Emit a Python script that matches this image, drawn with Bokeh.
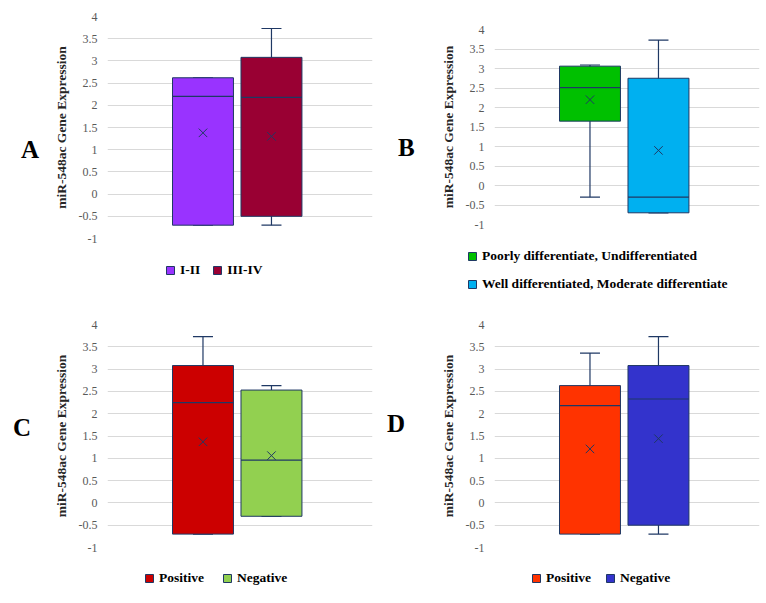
from bokeh.plotting import figure
from bokeh.models import (ColumnDataSource, Range1d, FixedTicker, NumeralTickFormatter,
                          Legend, LegendItem, Whisker, TeeHead, Div)
from bokeh.layouts import column, row
from bokeh.embed import file_html
from bokeh.resources import INLINE

# ---------------- data ----------------
y_ticks = [-1, -0.5, 0, 0.5, 1, 1.5, 2, 2.5, 3, 3.5, 4]
y_title = "miR-548ac Gene Expression"

a_cats = ["I-II", "III-IV"]
a_q1 = [-0.7, -0.5]
a_q3 = [2.62, 3.08]
a_median = [2.2, 2.18]
a_mean = [1.38, 1.3]
a_min = [-0.7, -0.7]
a_max = [2.62, 3.73]
a_colors = ["#9933FF", "#990033"]

b_cats = ["Poorly differentiate, Undifferentiated", "Well differentiated, Moderate differentiate"]
b_q1 = [1.65, -0.7]
b_q3 = [3.06, 2.75]
b_median = [2.51, -0.3]
b_mean = [2.2, 0.9]
b_min = [-0.3, -0.7]
b_max = [3.09, 3.73]
b_colors = ["#00C000", "#00B0F0"]

c_cats = ["Positive", "Negative"]
c_q1 = [-0.7, -0.3]
c_q3 = [3.08, 2.53]
c_median = [2.25, 0.96]
c_mean = [1.37, 1.06]
c_min = [-0.7, -0.3]
c_max = [3.73, 2.63]
c_colors = ["#CC0000", "#92D050"]

d_cats = ["Positive", "Negative"]
d_q1 = [-0.7, -0.5]
d_q3 = [2.63, 3.08]
d_median = [2.18, 2.33]
d_mean = [1.21, 1.44]
d_min = [-0.7, -0.7]
d_max = [3.36, 3.73]
d_colors = ["#FF3300", "#3333CC"]

NAVY = "#1F3864"
SERIF = "Liberation Serif"
PANEL_W = 383
DIV_W = 45


def bare_figure(w, h, **kw):
    f = figure(width=w, height=h, output_backend="svg", toolbar_location=None,
               margin=(0, 0, 0, 0), **kw)
    f.outline_line_color = None
    f.background_fill_color = "white"
    f.border_fill_color = "white"
    return f


def panel(letter, cats, q1, q3, med, mean, lo, hi, colors, main_h, leg_h, borders,
          letter_pos, legend_loc, legend_orient, legend_spacing):
    left, right, top, bottom = borders
    src = ColumnDataSource(dict(x=list(range(len(cats))), cat=cats, q1=q1, q3=q3,
                                med=med, mean=mean, lo=lo, hi=hi, color=colors))

    # ---- main box plot ----
    p = bare_figure(PANEL_W - DIV_W, main_h,
                    x_range=Range1d(-1.394, 2.475), y_range=Range1d(-1, 4),
                    x_axis_location=None, min_border_left=left - DIV_W,
                    min_border_right=right, min_border_top=top, min_border_bottom=bottom)
    p.xgrid.visible = False
    p.ygrid.grid_line_color = "#D9D9D9"
    p.ygrid.grid_line_width = 1
    p.ygrid.ticker = FixedTicker(ticks=y_ticks)

    ax = p.yaxis[0]
    ax.ticker = FixedTicker(ticks=y_ticks)
    ax.formatter = NumeralTickFormatter(format="0.[0]")
    ax.axis_line_color = None
    ax.major_tick_line_color = None
    ax.minor_tick_line_color = None
    ax.major_tick_out = 0
    ax.major_tick_in = 0
    ax.major_label_standoff = 10
    ax.major_label_text_font = SERIF
    ax.major_label_text_font_size = "12px"
    ax.major_label_text_color = "#595959"
    ax.axis_label = y_title
    ax.axis_label_text_font = SERIF
    ax.axis_label_text_font_style = "bold"
    ax.axis_label_text_font_size = "13.5px"
    ax.axis_label_text_color = "#262626"
    ax.axis_label_standoff = 7

    wh = Whisker(base="x", lower="lo", upper="hi", source=src, dimension="height",
                 line_color=NAVY, line_width=1.2, level="underlay",
                 upper_head=TeeHead(size=20, line_color=NAVY, line_width=1.2),
                 lower_head=TeeHead(size=20, line_color=NAVY, line_width=1.2))
    p.add_layout(wh)
    p.vbar(x="x", width=0.89, bottom="q1", top="q3", source=src,
           fill_color="color", line_color=NAVY, line_width=1)
    p.vbar(x="x", width=0.89, bottom="med", top="med", source=src,
           fill_color=None, line_color=NAVY, line_width=1.2)
    p.scatter(x="x", y="mean", source=src, marker="x", size=12,
              line_color=NAVY, line_width=1)

    # ---- panel letter ----
    lx, ly, lw = letter_pos
    html = ('<div style="padding-top:%dpx;padding-left:%dpx;line-height:25px;'
            'font-family:\'Liberation Serif\';font-weight:bold;font-size:25px;color:black">%s</div>'
            % (ly - 12, lx - lw // 2, letter))
    d = Div(text=html, width=DIV_W, height=main_h, margin=(0, 0, 0, 0))

    # ---- legend strip (swatches drawn from the same series) ----
    lf = bare_figure(PANEL_W, leg_h, x_range=Range1d(100, 101), y_range=Range1d(100, 101),
                     x_axis_location=None, y_axis_location=None,
                     min_border=0)
    lf.grid.visible = False
    sw = lf.vbar(x="x", width=0.89, bottom="q1", top="q3", source=src,
                 fill_color="color", line_color=NAVY, line_width=1)
    items = [LegendItem(label=c, renderers=[sw], index=i) for i, c in enumerate(cats)]
    leg = Legend(items=items, location=legend_loc, orientation=legend_orient,
                 glyph_width=10, glyph_height=10, label_standoff=5,
                 spacing=legend_spacing, padding=0, margin=0,
                 border_line_color=None, background_fill_alpha=0,
                 label_height=12)
    leg.label_text_font = SERIF
    leg.label_text_font_style = "bold"
    leg.label_text_font_size = "13.5px"
    leg.label_text_color = "black"
    lf.add_layout(leg)

    return column(row(d, p, spacing=0), lf, spacing=0)


pa = panel("A", a_cats, a_q1, a_q3, a_median, a_mean, a_min, a_max, a_colors,
           248, 52, (107, 11, 16, 10), (30, 149, 18), (165, 22), "horizontal", 12)
pb = panel("B", b_cats, b_q1, b_q3, b_median, b_mean, b_min, b_max, b_colors,
           234, 66, (111, 7, 29, 10), (23, 147, 17), (84, 8), "vertical", 12)
pc = panel("C", c_cats, c_q1, c_q3, c_median, c_mean, c_min, c_max, c_colors,
           257, 46, (107, 11, 24, 10), (22, 127, 18), (144, 17), "horizontal", 18)
pd = panel("D", d_cats, d_q1, d_q3, d_median, d_mean, d_min, d_max, d_colors,
           257, 46, (111, 7, 24, 10), (13, 123, 18), (148, 17), "horizontal", 14)

layout = column(row(pa, pb, spacing=0), row(pc, pd, spacing=0), spacing=0)
open("out.html", "w").write(file_html(layout, INLINE))
